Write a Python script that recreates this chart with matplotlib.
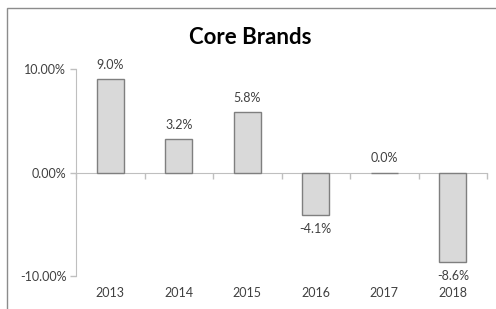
import matplotlib
matplotlib.use('Agg')
import matplotlib.pyplot as plt
from matplotlib.patches import Rectangle
from matplotlib.transforms import blended_transform_factory
import numpy as np

# ---------- Dữ liệu ----------
years = ['2013', '2014', '2015', '2016', '2017', '2018']
growth = [9.0, 3.2, 5.8, -4.1, 0.0, -8.6]
yticks = [-10, 0, 10]
ytick_labels = ['-10.00%', '0.00%', '10.00%']
title = 'Core Brands'

plt.rcParams['font.family'] = ['Lato', 'DejaVu Sans']

fig = plt.figure(figsize=(4.96, 3.09), dpi=100)
fig.patch.set_facecolor('white')

# khung ngoài (bị cắt ở bên phải và bên dưới)
fig.patches.append(Rectangle((7 / 496, -0.1), 1.2, 1 - 8 / 309 + 0.1, transform=fig.transFigure,
                             fill=False, edgecolor='#8c8c8c', linewidth=1.0))

ax = fig.add_axes([76 / 496, 1 - 276 / 309, (487 - 76) / 496, (276 - 69) / 309])
x = np.arange(len(years))
bars = ax.bar(x, growth, width=0.4, color='#d9d9d9', edgecolor='#7f7f7f', linewidth=1.0, zorder=3)

ax.set_xlim(-0.5, len(years) - 0.5)
ax.set_ylim(-10, 10)
ax.set_yticks(yticks)
ax.set_yticklabels(ytick_labels, fontsize=9, color='#404040')
ax.tick_params(axis='y', length=4, color='#bfbfbf', width=1, pad=3)

for s in ['top', 'right']:
  ax.spines[s].set_visible(False)
ax.spines['left'].set_color('#bfbfbf')
ax.spines['bottom'].set_color('#bfbfbf')
ax.spines['bottom'].set_position(('data', 0))

ax.set_xticks(np.arange(len(years) + 1) - 0.5)
ax.set_xticklabels([])
ax.tick_params(axis='x', length=4, color='#bfbfbf', width=1)

trans = blended_transform_factory(ax.transData, ax.transAxes)
for i, yr in enumerate(years):
  ax.text(i, -0.055, yr, transform=trans, ha='center', va='top', fontsize=9, color='#404040')

for i, v in enumerate(growth):
  if v >= 0:
    ax.annotate(f'{v:.1f}%', (i, v), xytext=(0, 6), textcoords='offset points',
                ha='center', va='bottom', fontsize=9, color='#404040')
  else:
    ax.annotate(f'{v:.1f}%', (i, v), xytext=(0, -6), textcoords='offset points',
                ha='center', va='top', fontsize=9, color='#404040')

fig.text(250 / 496, 1 - 37 / 309, title, ha='center', va='center', fontsize=16, fontweight='bold', color='black')

fig.savefig('out.png', dpi=100)
